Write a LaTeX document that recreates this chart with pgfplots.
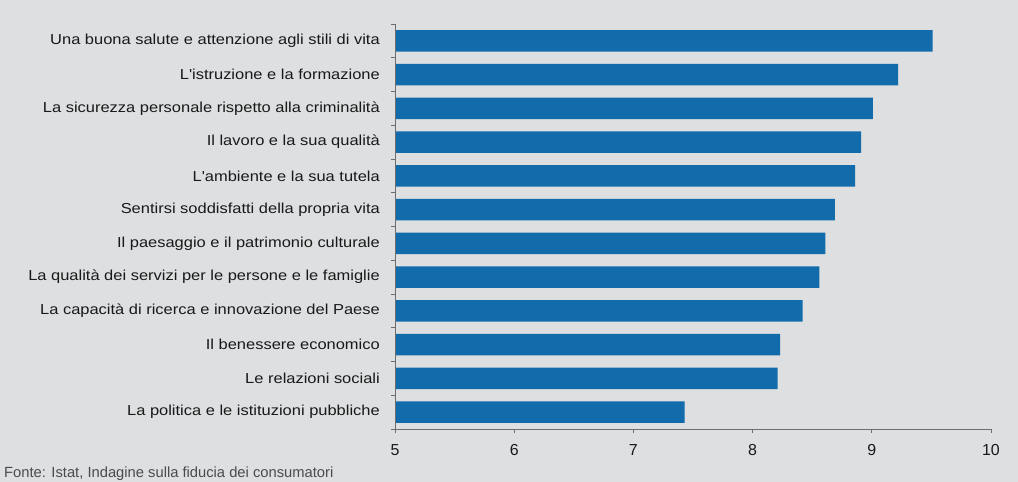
\documentclass[border=0pt]{standalone}
\usepackage{pgfplots}
\pgfplotsset{compat=1.18}
\usepackage{fontspec}
\setmainfont{Liberation Sans}
\newfontfamily\labelfont[FakeStretch=1.14]{Liberation Sans}
\definecolor{bg}{RGB}{221,223,224}
\definecolor{barblue}{RGB}{18,108,172}
\definecolor{axisgray}{RGB}{110,110,110}
\definecolor{txt}{RGB}{25,25,25}
\definecolor{foot}{RGB}{75,75,75}
\begin{document}
\begin{tikzpicture}
\fill[bg] (0,0) rectangle (1018bp,482bp);
\useasboundingbox (0,0) rectangle (1018bp,482bp);
\begin{axis}[
  at={(395bp,53bp)}, anchor=south west,
  scale only axis,
  width=596bp, height=405bp,
  xmin=5, xmax=10, ymin=0.5, ymax=12.5,
  xbar, bar width=21.5bp,
  axis lines*=left,
  axis line style={axisgray, line width=0.8bp},
  axis on top,
  xtick={5,6,7,8,9,10},
  ytick={1,...,12},
  yticklabels={
    La politica e le istituzioni pubbliche,
    Le relazioni sociali,
    Il benessere economico,
    La capacità di ricerca e innovazione del Paese,
    La qualità dei servizi per le persone e le famiglie,
    Il paesaggio e il patrimonio culturale,
    Sentirsi soddisfatti della propria vita,
    L'ambiente e la sua tutela,
    Il lavoro e la sua qualità,
    La sicurezza personale rispetto alla criminalità,
    L'istruzione e la formazione,
    Una buona salute e attenzione agli stili di vita},
  minor ytick={0.5,1.5,...,12.5},
  tick align=outside,
  major tick length=4bp,
  minor tick length=4bp,
  every major y tick/.append style={draw=none},
  tick style={axisgray, line width=0.7bp},
  minor tick style={axisgray, line width=0.7bp},
  /pgf/number format/assume math mode=true,
  xticklabel style={font=\fontsize{16}{18}\selectfont, text=txt, inner sep=0pt, yshift=-11bp},
  yticklabel style={font=\labelfont\fontsize{14.5}{17}\selectfont, text=txt, inner sep=0pt, anchor=east, xshift=-11bp},
  clip=true,
]
\addplot[fill=barblue, draw=none] table[x=x, y=y] {
y x
1 7.43
2 8.21
3 8.23
4 8.42
5 8.56
6 8.61
7 8.69
8 8.86
9 8.91
10 9.01
11 9.22
12 9.51
};
\end{axis}
\node[anchor=base west, inner sep=0pt, text=foot, font=\fontsize{14.8}{16}\selectfont] at (4bp,5bp) {Fonte: Istat, Indagine sulla fiducia dei consumatori};
\end{tikzpicture}
\end{document}
